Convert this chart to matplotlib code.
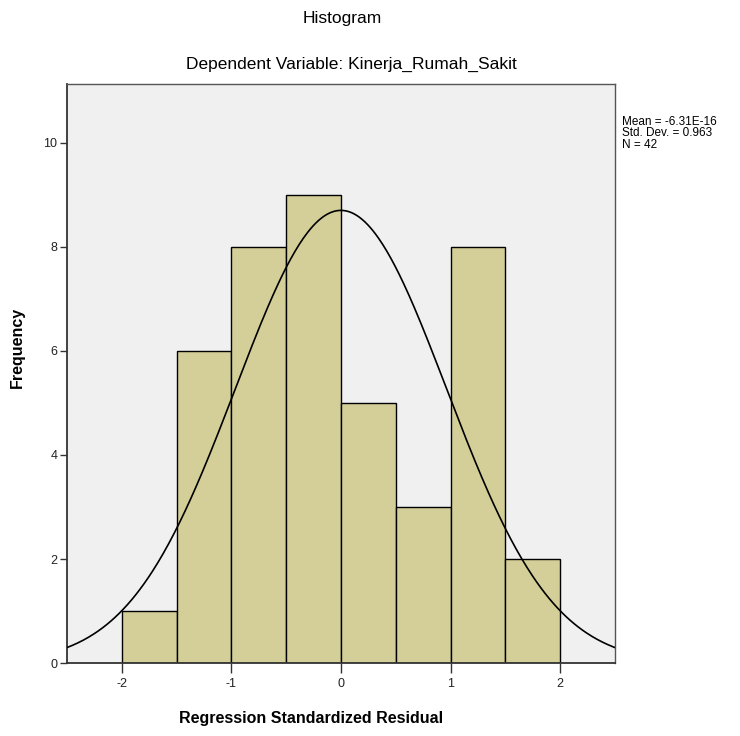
import numpy as np
import matplotlib.pyplot as plt

# bins of regression standardized residuals
bin_edges = [-2.0, -1.5, -1.0, -0.5, 0.0, 0.5, 1.0, 1.5, 2.0]
counts = [1, 6, 8, 9, 5, 3, 8, 2]

mean = -6.31e-16
std_dev = 0.963
n_obs = 42

x_ticks = [-2, -1, 0, 1, 2]
y_ticks = [0, 2, 4, 6, 8, 10]

plt.rcParams["font.family"] = ["Liberation Sans", "DejaVu Sans"]

fig = plt.figure(figsize=(7.4, 7.36), dpi=100)
ax = fig.add_axes([0.0905, 0.099, 0.7405, 0.787])
ax.set_facecolor("#f0f0f0")

widths = np.diff(bin_edges)
ax.bar(bin_edges[:-1], counts, width=widths, align="edge",
       color="#d4cf98", edgecolor="black", linewidth=1.0, zorder=2)

# fitted normal curve scaled to counts
bw = widths[0]
xs = np.linspace(-2.5, 2.5, 400)
ys = n_obs * bw * np.exp(-0.5 * ((xs - mean) / std_dev) ** 2) / (std_dev * np.sqrt(2 * np.pi))
ax.plot(xs, ys, color="black", linewidth=1.2, zorder=3)

ax.set_xlim(-2.5, 2.5)
ax.set_ylim(0, 11.13)
ax.set_xticks(x_ticks)
ax.set_xticklabels([str(v) for v in x_ticks])
ax.set_yticks(y_ticks)
ax.set_yticklabels([str(v) for v in y_ticks])
ax.tick_params(direction="out", width=1, color="#333333",
               labelsize=9, labelcolor="#222222")
ax.tick_params(axis="x", length=7.5, pad=3)
ax.tick_params(axis="y", length=5, pad=2)

for s in ["left", "bottom"]:
    ax.spines[s].set_color("#333333")
    ax.spines[s].set_linewidth(1.3)
for s in ["top", "right"]:
    ax.spines[s].set_color("#555555")
    ax.spines[s].set_linewidth(1.0)

ax.set_xlabel("Regression Standardized Residual", fontsize=11.5,
              fontweight="bold")
ax.xaxis.set_label_coords(0.445, -0.083)
ax.set_ylabel("Frequency", fontsize=11.5, fontweight="bold")
ax.yaxis.set_label_coords(-0.076, 0.545)

fig.text(0.463, 0.975, "Histogram", ha="center", va="center",
         fontsize=12.5)
fig.text(0.475, 0.913, "Dependent Variable: Kinerja_Rumah_Sakit",
         ha="center", va="center", fontsize=12.5)

fig.text(0.84, 0.843,
         f"Mean = -6.31E-16\nStd. Dev. = {std_dev}\nN = {n_obs}",
         ha="left", va="top", fontsize=8.5, linespacing=0.95)

fig.savefig("out.png", dpi=100)
